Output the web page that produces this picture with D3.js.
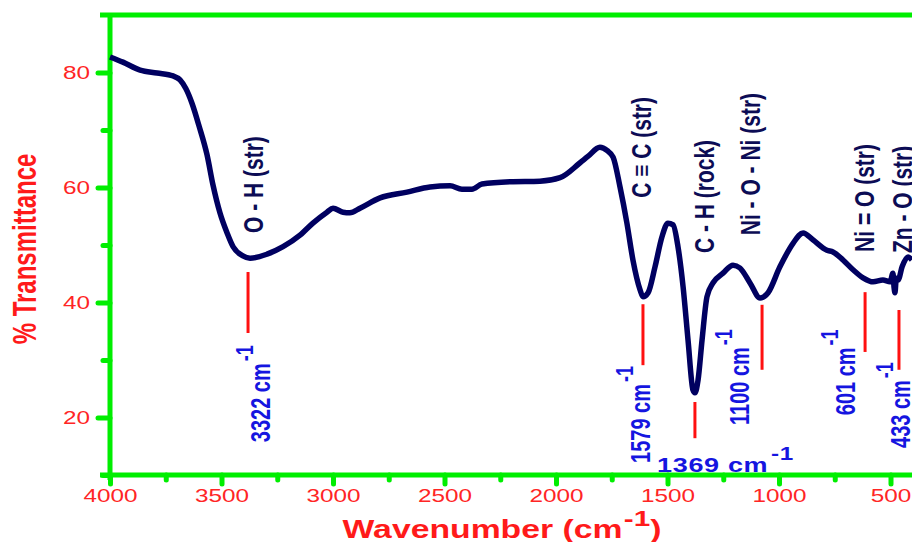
<!DOCTYPE html>
<html>
<head>
<meta charset="utf-8">
<script src="https://cdn.jsdelivr.net/npm/d3@7"></script>
<style>
body{margin:0;background:#fff;}
svg{display:block;font-family:"Liberation Sans",Arial,sans-serif;}
</style>
</head>
<body>
<svg id="chart"></svg>
<script>
// spectrum
var wavenumber = [4000,3942,3865,3789,3717,3686,3660,3632,3600,3565,3538,3507,3475,3448,3404,3372,
    3296,3224,3148,3090,3027,3000,2955,2924,2879,2789,2668,2565,2475,2422,2377,2332,2206,2072,
    1982,1892,1857,1803,1770,1744,1713,1682,1655,1623,1610,1587,1556,1525,1498,1475,1453,1430,
    1408,1386,1377,1363,1345,1323,1296,1251,1206,1175,1130,1085,1049,996,937,892,848,785,758,
    713,668,623,578,534,502,489,484,480,474,466,448,421,404];
var transmittance = [82.7,81.8,80.4,79.9,79.4,78.7,77.2,74.6,70.6,65.7,60.4,55.6,52.1,49.7,48.1,47.7,
    48.4,49.7,51.7,53.8,55.7,56.4,55.7,55.6,56.4,58.2,59.2,60.1,60.3,59.7,59.7,60.6,61.0,61.1,
    61.7,64.3,65.4,67.0,66.4,65.3,60.1,53.8,47.4,42.2,41.0,41.7,46.2,51.4,53.8,53.5,49.7,42.7,
    33.5,24.8,24.3,26.5,33.5,41.0,43.4,45.1,46.5,46.0,43.4,40.8,41.7,46.2,50.3,52.1,50.9,49.1,48.8,
    47.4,45.7,44.3,43.6,43.9,43.6,45.1,42.6,41.7,44.2,43.9,46.2,47.9,47.4];

var xTicks = [4000,3500,3000,2500,2000,1500,1000,500];
var xMinorTicks = [3750,3250,2750,2250,1750,1250,750];
var yTicks = [20,40,60,80];
var yMinorTicks = [10,30,50,70];

// band assignments
var bondNames = ["O - H (str)","C \u2261 C (str)","C - H (rock)","Ni - O - Ni (str)","Ni = O (str)","Zn - O (str)"];
var bandLabels = ["3322","1579","1369","1100","601","433"];
var markerWave = [3381,1610,1377,1076,614,462];
var markerTop = [45.3,39.7,22.7,39.6,41.8,38.7];
var markerBottom = [34.7,29.1,16.4,28.3,31.4,28.3];

// where the texts sit, in data units
var bondTextWave = [3359,1619,1336,1130,619,448];
var bondTextT = [52.1,58.2,48.6,51.7,48.8,48.6];
var bandTextWave = [3323,1619,1547,1179,700,455];
var bandTextT = [15.7,12.1,10.5,18.7,20.4,14.7];


var screen = {width:912, height:542};
var stretch = 1.35; // the picture is stretched sideways

var svg = d3.select("#chart")
    .attr("width",screen.width)
    .attr("height",screen.height);

var xScale = d3.scaleLinear()
    .domain([4000,500])
    .range([110,890.5]);

var yScale = d3.scaleLinear()
    .domain([10,90])
    .range([475,15]);

var green = "#00ee00";
var red = "#ff2525";

//frame
svg.append("line")
    .attr("x1",100).attr("x2",screen.width+10)
    .attr("y1",yScale(90)).attr("y2",yScale(90))
    .attr("stroke",green).attr("stroke-width",5);

var styleAxis = function(g)
{
    g.select(".domain").remove();
    g.selectAll("line")
        .attr("stroke",green)
        .attr("stroke-width",5)
        .attr("stroke-linecap","round");
}

svg.append("g")
    .attr("transform","translate(110,0)")
    .call(d3.axisLeft(yScale).tickValues(yMinorTicks).tickSize(7).tickFormat(""))
    .call(styleAxis);

var yAxis = svg.append("g")
    .attr("transform","translate(110,0)")
    .call(d3.axisLeft(yScale).tickValues(yTicks).tickSize(12))
    .call(styleAxis);

yAxis.selectAll("text")
    .attr("fill",red)
    .style("font-size","18px")
    .attr("x",-20/stretch)
    .attr("dy","0.36em")
    .attr("transform","scale("+stretch+",1)");

svg.append("g")
    .attr("transform","translate(0,475)")
    .call(d3.axisBottom(xScale).tickValues(xMinorTicks).tickSize(5).tickFormat(""))
    .call(styleAxis);

var xAxis = svg.append("g")
    .attr("transform","translate(0,475)")
    .call(d3.axisBottom(xScale).tickValues(xTicks).tickSize(9).tickFormat(d3.format("d")))
    .call(styleAxis);

xAxis.selectAll("text")
    .attr("fill",red)
    .style("font-size","18px")
    .attr("y",14)
    .attr("x",0)
    .attr("transform","scale("+stretch+",1)");

svg.append("line")
    .attr("x1",110).attr("x2",110)
    .attr("y1",yScale(90)-2).attr("y2",480)
    .attr("stroke",green).attr("stroke-width",5);
svg.append("line")
    .attr("x1",100).attr("x2",screen.width+10)
    .attr("y1",475).attr("y2",475)
    .attr("stroke",green).attr("stroke-width",5);

//spectrum
var points = wavenumber.map(function(w,i){ return [w, transmittance[i]]; });

var lineGenerator = d3.line()
    .x(function(p){ return xScale(p[0]); })
    .y(function(p){ return yScale(p[1]); })
    .curve(d3.curveMonotoneX);

svg.append("path")
    .datum(points)
    .attr("d",lineGenerator)
    .attr("fill","none")
    .attr("stroke","#000060")
    .attr("stroke-width",5.5)
    .attr("stroke-linejoin","round");

//red markers
svg.append("g")
    .selectAll("line")
    .data(markerWave)
    .enter()
    .append("line")
    .attr("x1",function(w){ return xScale(w); })
    .attr("x2",function(w){ return xScale(w); })
    .attr("y1",function(w,i){ return yScale(markerTop[i]); })
    .attr("y2",function(w,i){ return yScale(markerBottom[i]); })
    .attr("stroke","#ff1010")
    .attr("stroke-width",3);

var labels = svg.append("g");

var verticalText = function(x, y, size, colour)
{
    return labels.append("text")
        .attr("transform","translate("+x+","+y+") scale("+stretch+",1) rotate(-90)")
        .attr("dy","0.35em")
        .attr("fill",colour)
        .style("font-size",size+"px")
        .style("font-weight","bold");
}

bondNames.forEach(function(name,i)
{
    verticalText(xScale(bondTextWave[i]), yScale(bondTextT[i]), 21, "#0c0c55")
        .text(name);
});

bandLabels.forEach(function(band,i)
{
    var t;
    if(band=="1369")
    {
        t = labels.append("text")
            .attr("transform","translate("+xScale(bandTextWave[i])+","+yScale(bandTextT[i])+") scale("+stretch+",1)")
            .attr("fill","#1515e0")
            .style("font-size","20px")
            .style("font-weight","bold")
            .style("letter-spacing","0.5px");
    }
    else
    {
        t = verticalText(xScale(bandTextWave[i]), yScale(bandTextT[i]), 20, "#1515e0");
    }
    t.append("tspan").text(band+" cm");
    t.append("tspan")
        .attr("dx",2)
        .attr("dy","-0.7em")
        .style("font-size","18px")
        .text("-1");
});

//axis titles
var xTitle = svg.append("text")
    .attr("transform","translate(502,538) scale("+stretch+",1)")
    .attr("text-anchor","middle")
    .attr("fill","#ff1a1a")
    .style("font-size","25px")
    .style("font-weight","bold");
xTitle.append("tspan").text("Wavenumber (cm");
xTitle.append("tspan").attr("dy",-12).attr("dx",1).style("font-size","22px").text("-1");
xTitle.append("tspan").attr("dy",12).text(")");

svg.append("text")
    .attr("transform","translate(25,249) scale("+stretch+",1) rotate(-90)")
    .attr("text-anchor","middle")
    .attr("dy","0.35em")
    .attr("fill","#ff1a1a")
    .style("font-size","24px")
    .style("font-weight","bold")
    .text("% Transmittance");
</script>
</body>
</html>
